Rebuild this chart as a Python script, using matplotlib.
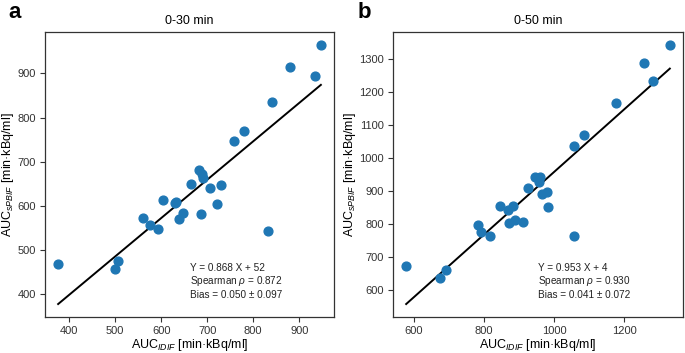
import matplotlib
matplotlib.use("Agg")
import matplotlib.pyplot as plt
import numpy as np

plt.rcParams['font.family'] = ['Liberation Sans', 'DejaVu Sans']
plt.rcParams['mathtext.fontset'] = 'custom'
plt.rcParams['mathtext.rm'] = 'Liberation Sans'
plt.rcParams['mathtext.it'] = 'Liberation Sans:italic'

# Panel a: 0-30 min
idif_30 = [376, 499, 507, 560, 575, 594, 604, 629, 632, 639, 648, 664, 683, 686,
           688, 691, 706, 722, 729, 758, 781, 833, 841, 880, 934, 947]
spbif_30 = [469, 458, 475, 574, 558, 547, 613, 607, 610, 570, 584, 649, 681, 583,
            672, 663, 640, 604, 648, 746, 769, 543, 835, 915, 894, 964]
fit_30 = (0.868, 52)
text_30 = ["Y = 0.868 X + 52", r"Spearman $\rho$ = 0.872", "Bias = 0.050 ± 0.097"]

# Panel b: 0-50 min
idif_50 = [579, 676, 693, 785, 791, 818, 846, 869, 883, 873, 889, 911, 926,
           947, 961, 958, 967, 979, 982, 1058, 1058, 1085, 1177, 1256, 1282, 1330]
spbif_50 = [672, 636, 660, 795, 774, 763, 855, 843, 853, 803, 812, 806, 908,
            943, 943, 928, 891, 897, 850, 1037, 763, 1069, 1168, 1289, 1233, 1343]
fit_50 = (0.953, 4)
text_50 = ["Y = 0.953 X + 4", r"Spearman $\rho$ = 0.930", "Bias = 0.041 ± 0.072"]

fig = plt.figure(figsize=(6.85, 3.53), dpi=100)
ax_a = fig.add_axes([0.0657, 0.102, 0.4219, 0.807])
ax_b = fig.add_axes([0.5737, 0.102, 0.4234, 0.807])

panels = [(ax_a, idif_30, spbif_30, fit_30, text_30, "0-30 min", "a", 0.012),
          (ax_b, idif_50, spbif_50, fit_50, text_50, "0-50 min", "b", 0.522)]

for ax, x, y, fit, lines, title, letter, lx in panels:
    ax.scatter(x, y, s=40, color='#1f77b4', zorder=3)
    xs = np.array([min(x), max(x)])
    ax.plot(xs, fit[0] * xs + fit[1], color='black', lw=1.4, zorder=2)
    ax.set_title(title, fontsize=9, pad=6)
    ax.set_xlabel(r"AUC$_{IDIF}$ [min·kBq/ml]", fontsize=9, labelpad=1)
    ax.set_ylabel(r"AUC$_{sPBIF}$ [min·kBq/ml]", fontsize=9, labelpad=1)
    ax.tick_params(labelsize=8, length=3.5, width=0.8, colors='#333333', pad=3)
    for sp in ax.spines.values():
        sp.set_color('#333333')
        sp.set_linewidth(0.9)
    for i, t in enumerate(lines):
        ax.text(0.50, 0.172 - i * 0.047, t, transform=ax.transAxes,
                fontsize=7.2, va='center', ha='left', color='#222222')
    fig.text(lx, 0.965, letter, fontsize=16, fontweight='bold', va='center', ha='left')

fig.savefig("out.png", dpi=100)
